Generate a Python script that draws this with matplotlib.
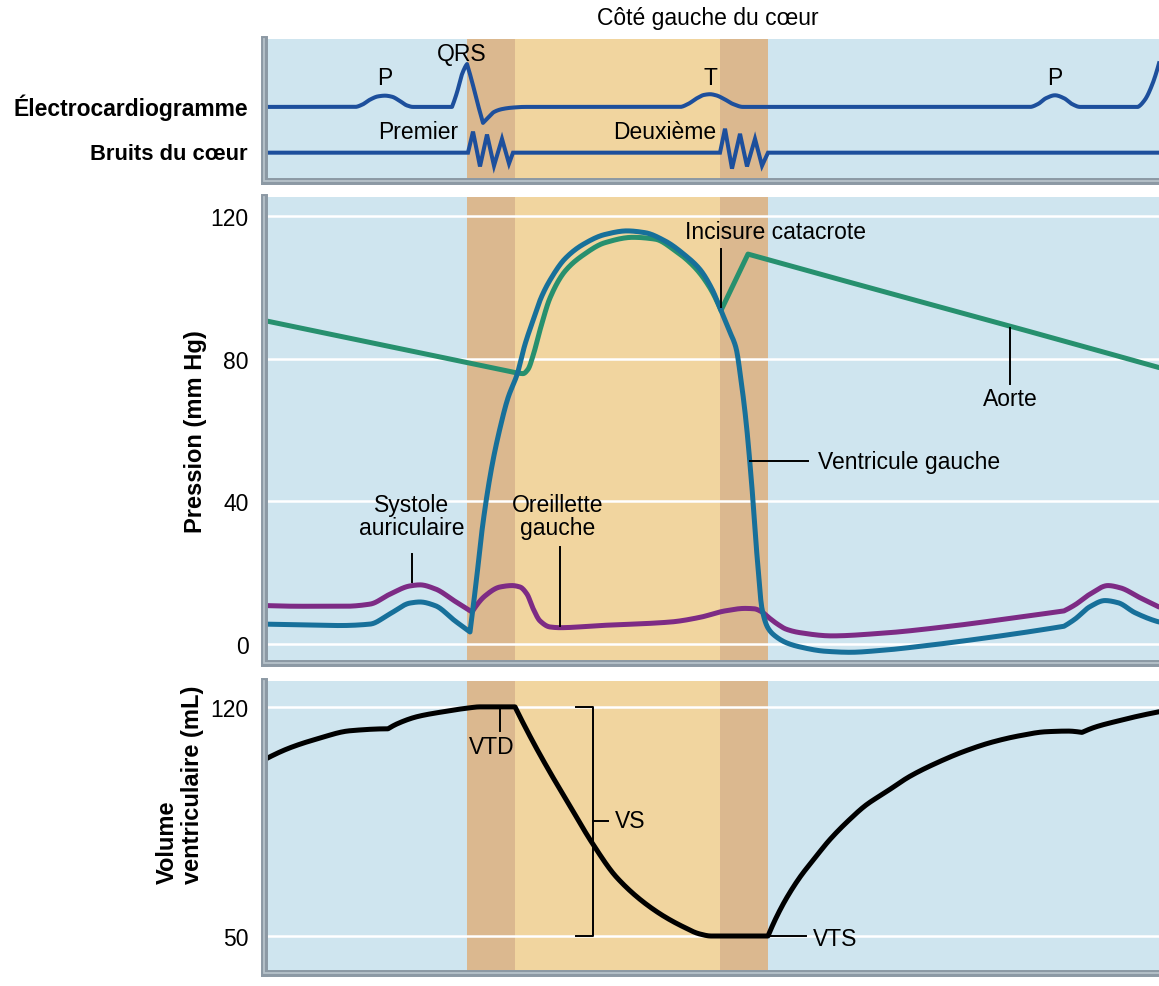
import numpy as np
import matplotlib
matplotlib.use("Agg")
import matplotlib.pyplot as plt

plt.rcParams['font.family'] = ['Liberation Sans', 'DejaVu Sans']

# ---------------------------------------------------------------- data
# time in ms from the left edge of the traces
phase_edges = [203, 251, 456, 504]   # contraction iso., éjection, relaxation iso.

ecg_t = [0, 91, 98, 106, 114, 121, 128, 136, 143, 149, 188, 193, 198, 203, 208,
         213, 219, 224, 230, 238, 248, 261, 416, 424, 433, 440, 446, 452, 460,
         469, 479, 766, 774, 782, 791, 800, 808, 816, 874, 881, 888, 895]
ecg_mv = [0, 0, 0.03, 0.10, 0.145, 0.155, 0.14, 0.08, 0.02, 0, 0, 0.20, 0.45,
          0.59, 0.35, 0.08, -0.22, -0.15, -0.07, -0.03, -0.01, 0, 0, 0.04, 0.12,
          0.165, 0.175, 0.16, 0.11, 0.04, 0, 0, 0.04, 0.12, 0.16, 0.12, 0.04, 0,
          0, 0.10, 0.30, 0.60]
ecg_corners = [188, 203, 219, 874]

sound_t = [0, 204, 209, 216, 223, 230, 238, 245, 249,
           456, 461, 468, 476, 483, 491, 498, 504, 895]
sound_amp = [0, 0, 0.29, -0.19, 0.25, -0.18, 0.19, -0.15, 0,
             0, 0.33, -0.22, 0.26, -0.19, 0.19, -0.18, 0, 0]
sound_offset = -0.63

lv_t = [0, 36, 76, 106, 126, 146, 156, 171, 191, 206, 212, 219, 228, 236, 244,
        253, 261, 269, 277, 286, 301, 319, 341, 363, 381, 401, 421, 436, 448,
        457, 465, 472, 477, 482, 488, 493, 498, 504, 511, 523, 536, 561, 586,
        616, 657, 716, 766, 800, 811, 826, 841, 854, 871, 895]
lv_p = [5.6, 5.4, 5.2, 5.6, 8.5, 11.5, 11.8, 10.8, 6.5, 3.4, 17, 34, 50, 60.5,
        69, 75.5, 84, 90.7, 97, 102, 108, 112, 114.8, 115.8, 115.3, 113, 109,
        105, 99.5, 93.5, 88, 83, 74, 62.5, 43.7, 24.8, 9.9, 4.5, 2.3, 0.3, -0.8,
        -2, -2.3, -1.8, -0.6, 1.5, 3.5, 5, 7, 10.5, 12.2, 11.6, 8.8, 6.2]
lv_corners = [206, 800]

ao_t = [0, 100, 200, 240, 253, 259, 264, 269, 277, 286, 301, 319, 341, 369, 391,
        411, 431, 446, 457, 484, 600, 750, 895]
ao_p = [90.7, 84.9, 79.1, 76.8, 76, 75.8, 77, 80.8, 89, 97, 104.5, 109, 112.5,
        114, 113.5, 110.3, 105.5, 99.8, 93.5, 109.3, 100.3, 88.8, 77.5]
ao_corners = [457, 484]

la_t = [0, 36, 81, 106, 126, 146, 156, 171, 191, 208, 221, 236, 248, 256, 263,
        269, 276, 286, 296, 336, 407, 436, 461, 481, 490, 498, 504, 514, 522,
        536, 568, 616, 686, 746, 800, 811, 826, 844, 856, 876, 895]
la_p = [10.8, 10.6, 10.6, 11.2, 14, 16.3, 16.6, 15.5, 12, 9.0, 13.5, 16, 16.4,
        16, 14, 10, 6.5, 4.8, 4.6, 5.2, 6.2, 7.5, 9.3, 10, 9.9, 9, 7.6, 5.5,
        4.2, 3.2, 2.3, 3, 5, 7.2, 9.3, 11, 14, 16.4, 15.8, 13, 10.4]
la_corners = [208, 800]

vol_t = [0, 26, 53, 86, 124, 133, 153, 179, 203, 216, 251, 269, 286, 306, 328,
         353, 390, 418, 436, 447, 504, 512, 522, 536, 550, 566, 586, 602, 622,
         646, 675, 701, 729, 756, 782, 804, 818, 831, 854, 876, 895]
vol_ml = [103.8, 107.5, 110.2, 112.7, 113.3, 114.8, 117, 118.5, 119.6, 120, 120,
          109.3, 100, 89.7, 78.5, 67.8, 58, 53, 50.6, 50, 50, 55.5, 61.3, 68,
          73.5, 79.5, 85.7, 90, 94, 98.8, 103.2, 106.5, 109.3, 111.2, 112.4,
          112.6, 112.2, 113.8, 115.7, 117.3, 118.5]
vol_corners = [124, 251, 504, 818]

pressure_ticks = [0, 40, 80, 120]
volume_ticks = [50, 120]
vtd, vts = 120, 50


# ---------------------------------------------------------------- smooth drawing
def _pchip(x, y, xs):
    """Monotone cubic (Fritsch-Carlson) curve through the knots."""
    x = np.asarray(x, float)
    y = np.asarray(y, float)
    n = len(x)
    h = np.diff(x)
    d = np.diff(y) / h
    m = np.zeros(n)
    if n == 2:
        m[:] = d[0]
    else:
        for k in range(1, n - 1):
            if d[k - 1] * d[k] <= 0:
                m[k] = 0.0
            else:
                w1 = 2 * h[k] + h[k - 1]
                w2 = h[k] + 2 * h[k - 1]
                m[k] = (w1 + w2) / (w1 / d[k - 1] + w2 / d[k])

        def end(h0, h1, d0, d1):
            mm = ((2 * h0 + h1) * d0 - h0 * d1) / (h0 + h1)
            if np.sign(mm) != np.sign(d0):
                mm = 0.0
            elif np.sign(d0) != np.sign(d1) and abs(mm) > abs(3 * d0):
                mm = 3 * d0
            return mm

        m[0] = end(h[0], h[1], d[0], d[1])
        m[-1] = end(h[-1], h[-2], d[-1], d[-2])
    idx = np.clip(np.searchsorted(x, xs, side='right') - 1, 0, n - 2)
    s = (xs - x[idx]) / h[idx]
    h00 = 2 * s**3 - 3 * s**2 + 1
    h10 = s**3 - 2 * s**2 + s
    h01 = -2 * s**3 + 3 * s**2
    h11 = s**3 - s**2
    return h00 * y[idx] + h10 * h[idx] * m[idx] + h01 * y[idx + 1] + h11 * h[idx] * m[idx + 1]


def smooth(t, v, corners=()):
    t = list(t)
    cuts = [0] + [t.index(c) for c in corners] + [len(t) - 1]
    xs_all, ys_all = [], []
    for a, b in zip(cuts[:-1], cuts[1:]):
        seg_t, seg_v = t[a:b + 1], v[a:b + 1]
        xs = np.linspace(seg_t[0], seg_t[-1], max(2, int((seg_t[-1] - seg_t[0]) * 2)))
        xs_all.append(xs)
        ys_all.append(_pchip(seg_t, seg_v, xs))
    return np.concatenate(xs_all), np.concatenate(ys_all)


# ---------------------------------------------------------------- style
BLUE_BG = '#cfe5ef'
TAN_DARK = '#dbb88f'
TAN_LIGHT = '#f1d59f'
ECG_COL = '#1d4f9c'
LV_COL = '#17709a'
AO_COL = '#27906e'
LA_COL = '#7d2b85'
FRAME = '#8c99a4'
FS = 16.5
FS_TICK = 16.5
FS_BOLD = 16.5

W, H = 1159, 987
fig = plt.figure(figsize=(W / 100, H / 100), dpi=100)


def axes_px(left, top, right, bottom):
    return fig.add_axes([left / W, 1 - bottom / H, (right - left) / W, (bottom - top) / H])


def decorate(ax):
    ax.set_facecolor(BLUE_BG)
    ax.set_xlim(0, 895)
    ax.axvspan(phase_edges[0], phase_edges[1], color=TAN_DARK, lw=0, zorder=0.2)
    ax.axvspan(phase_edges[1], phase_edges[2], color=TAN_LIGHT, lw=0, zorder=0.2)
    ax.axvspan(phase_edges[2], phase_edges[3], color=TAN_DARK, lw=0, zorder=0.2)
    for s in ('top', 'right'):
        ax.spines[s].set_visible(False)
    for s in ('left', 'bottom'):
        ax.spines[s].set_color(FRAME)
        ax.spines[s].set_linewidth(5)
        ax.spines[s].set_zorder(5)
    ax.plot([0, 0, 1], [1, 0, 0], transform=ax.transAxes, color='#b7c2ca',
            lw=1.3, clip_on=False, zorder=6, solid_joinstyle='miter')
    ax.set_xticks([])
    ax.tick_params(axis='y', length=0, labelsize=FS_TICK, pad=11)


# ---------------------------------------------------------------- ECG + heart sounds
ax0 = axes_px(264, 40, W, 182)
decorate(ax0)
ax0.set_ylim(-1.02, 0.935)
ax0.set_yticks([])
ax0.plot(*smooth(ecg_t, ecg_mv, ecg_corners), color=ECG_COL, lw=2.9,
         solid_joinstyle='round', zorder=3)
ax0.plot(sound_t, np.array(sound_amp) + sound_offset, color=ECG_COL, lw=2.9,
         solid_joinstyle='miter', zorder=3)
for txt, x, y in [('P', 121, 0.4), ('QRS', 198, 0.74), ('T', 446, 0.4), ('P', 791, 0.4)]:
    ax0.text(x, y, txt, ha='center', va='center', fontsize=FS)
ax0.text(194, -0.34, 'Premier', ha='right', va='center', fontsize=FS)
ax0.text(452, -0.34, 'Deuxième', ha='right', va='center', fontsize=FS)

fig.text(248 / W, 1 - 108 / H, 'Électrocardiogramme', ha='right', va='center',
         fontsize=FS_BOLD, fontweight='bold')
fig.text(248 / W, 1 - 154 / H, 'Bruits du cœur', ha='right', va='center',
         fontsize=15.8, fontweight='bold')
fig.text(708 / W, 1 - 18 / H, 'Côté gauche du cœur', ha='center', va='center', fontsize=FS)

# ---------------------------------------------------------------- pressure
ax1 = axes_px(264, 198, W, 664)
decorate(ax1)
ax1.set_ylim(-5.3, 125.3)
ax1.set_yticks(pressure_ticks)
for v in pressure_ticks:
    ax1.axhline(v, color='white', lw=1.8, zorder=0.5)
ax1.plot(*smooth(ao_t, ao_p, ao_corners), color=AO_COL, lw=3.6,
         solid_joinstyle='round', solid_capstyle='round', zorder=3)
ax1.plot(*smooth(la_t, la_p, la_corners), color=LA_COL, lw=3.6,
         solid_joinstyle='round', solid_capstyle='round', zorder=3)
ax1.plot(*smooth(lv_t, lv_p, lv_corners), color=LV_COL, lw=3.6,
         solid_joinstyle='round', solid_capstyle='round', zorder=4)

lead = dict(color='black', lw=1.4, zorder=5)
ax1.text(148, 35.9, 'Systole\nauriculaire', ha='center', va='center', fontsize=FS, linespacing=1.05)
ax1.plot([148, 148], [25.2, 17.4], **lead)
ax1.text(294, 35.9, 'Oreillette\ngauche', ha='center', va='center', fontsize=FS, linespacing=1.05)
ax1.plot([296, 296], [27.2, 5.0], **lead)
ax1.text(421, 115.5, 'Incisure catacrote', ha='left', va='center', fontsize=FS)
ax1.plot([457, 457], [110.7, 94.5], **lead)
ax1.text(746, 68.7, 'Aorte', ha='center', va='center', fontsize=FS)
ax1.plot([746, 746], [88.5, 72.9], **lead)
ax1.text(554, 51.3, 'Ventricule gauche', ha='left', va='center', fontsize=FS)
ax1.plot([486, 544], [51.3, 51.3], **lead)

fig.text(195 / W, 1 - 432 / H, 'Pression (mm Hg)', rotation=90, ha='center',
         va='center', fontsize=17, fontweight='bold')

# ---------------------------------------------------------------- volume
ax2 = axes_px(264, 682, W, 974)
decorate(ax2)
ax2.set_ylim(38.7, 127.9)
ax2.set_yticks(volume_ticks)
for v in volume_ticks:
    ax2.axhline(v, color='white', lw=1.8, zorder=0.5)
ax2.plot(*smooth(vol_t, vol_ml, vol_corners), color='black', lw=3.6,
         solid_joinstyle='round', solid_capstyle='round', zorder=3)

ax2.plot([236, 236], [vtd, 112.7], **lead)
ax2.text(228, 107.8, 'VTD', ha='center', va='center', fontsize=FS)
ax2.plot([312, 329, 329, 312], [vtd, vtd, vts, vts], **lead)
ax2.plot([329, 344], [85.2, 85.2], **lead)
ax2.text(351, 85.2, 'VS', ha='left', va='center', fontsize=FS)
ax2.plot([504, 542], [vts, vts], **lead)
ax2.text(549, 49.2, 'VTS', ha='left', va='center', fontsize=FS)

fig.text(180 / W, 1 - 884 / H, 'Volume\nventriculaire (mL)', rotation=90,
         ha='center', va='bottom', multialignment='left', fontsize=17,
         fontweight='bold', linespacing=1.1)

fig.savefig('out.png', dpi=100, facecolor='white')
